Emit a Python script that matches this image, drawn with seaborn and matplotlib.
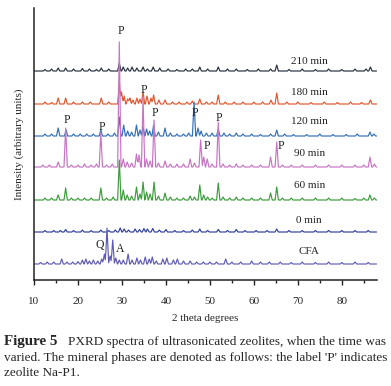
import numpy as np
import pandas as pd
import matplotlib.pyplot as plt
import seaborn as sns
from matplotlib.ticker import MultipleLocator

# 시료 이름 / 색
samples = ['210 min', '180 min', '120 min', '90 min', '60 min', '0 min', 'CFA']
colors = ['#26303e', '#e2552d', '#3370b8', '#c873c4', '#3c9c3c', '#2f3f9c', '#5f5bb5']
offsets = [209, 176, 144, 113, 80, 48, 16]     # 세로로 쌓기 위한 기준선
label_y = [218.5, 187.5, 158.5, 126, 94, 59.5, 29]

# 피크 (2theta, 세기) - 그림에서 읽은 값
peaks_210 = [(12.5, 1.5), (14, 2), (15.5, 3), (17.2, 3), (19, 2), (21, 2.5), (22.6, 2), (24.2, 1.5),
             (25.3, 3), (27, 2), (29.4, 8), (30.3, 4), (31.3, 3), (32.3, 4), (33.4, 3), (34.8, 4),
             (35.8, 2), (37.1, 4), (38.6, 3), (40.5, 2), (42.5, 1.5), (44.5, 2), (46, 2), (47.7, 4),
             (49.5, 2), (51.9, 4), (54, 2), (56, 2), (58.5, 1.5), (61, 2), (63.8, 2), (65.2, 6),
             (68, 1.5), (71, 2), (74, 1.5), (77, 2), (80, 1.5), (83, 2), (85.5, 2), (86.5, 4)]
peaks_180 = [(12.5, 2), (14, 1.5), (15.5, 6), (17.2, 6), (19, 2), (21, 2), (22.8, 2), (25.3, 6),
             (27, 2), (29.4, 21), (29.9, 12), (30.5, 8), (31.3, 5), (31.8, 6), (32.5, 4), (33.4, 6),
             (34.1, 5), (34.8, 12), (35.7, 8), (36.6, 6), (37.2, 9), (38.4, 4), (39.8, 4), (41.5, 2),
             (43, 2), (44.8, 2), (46, 3), (47.7, 5), (49.2, 2), (50.5, 2), (51.9, 9), (53.5, 2),
             (55.5, 2), (57.5, 2), (60, 2), (62, 2), (63.9, 4), (65.2, 11), (67.5, 2), (70, 2),
             (73, 1.5), (76, 2), (79, 1.5), (82, 2), (84.5, 1.5), (86.5, 4)]
peaks_120 = [(12.5, 2), (14, 2), (15.5, 8), (17.3, 6), (19, 2), (20.5, 2), (22, 2), (23.5, 2),
             (25.2, 6), (26.8, 2), (28.3, 3), (29.4, 19), (30.4, 11), (31.3, 5), (32.2, 4), (33.3, 11),
             (34.1, 6), (34.8, 9), (35.6, 7), (36.3, 5), (37.2, 11), (38.3, 4), (39.8, 8), (41, 3),
             (42.5, 2), (44, 2), (45.2, 3), (46.4, 34), (47.3, 8), (48, 5), (49.2, 3), (50.5, 3),
             (51.9, 7), (53.2, 3), (54.5, 2), (56, 3), (57.5, 2), (59.5, 2), (61.5, 1.5), (63.8, 2),
             (65.2, 6), (67, 2), (69, 1.5), (72, 1.5), (75, 2), (78, 1.5), (81, 1.5), (83.5, 2),
             (86.4, 4), (87.3, 2)]
peaks_90 = [(12, 2), (13.5, 2), (15.5, 5), (17.2, 39), (18.5, 2), (20, 2), (21.5, 3), (23, 2),
            (24.2, 3), (25.2, 34), (26.5, 2), (27.8, 3), (29.4, 125), (30.3, 8), (31.2, 5), (32.2, 4),
            (33.3, 13), (33.9, 12), (34.8, 70), (35.6, 8), (36.4, 6), (37.3, 47), (38.3, 4), (39.8, 6),
            (41, 3), (42.5, 3), (44, 3), (45.5, 8), (46.5, 4), (47.9, 27), (48.6, 10), (49.4, 8),
            (50.5, 3), (51.9, 45), (53, 3), (54.5, 2), (56, 3), (57.5, 2), (59.5, 2), (61.5, 2),
            (63.8, 10), (65.2, 25), (66.5, 2), (68.5, 2), (71, 2), (74, 2), (77, 2), (80, 2),
            (83, 2), (85, 2), (86.4, 10), (87.4, 3)]
peaks_60 = [(12.5, 2), (14, 2), (15.5, 5), (17.2, 12), (18.5, 2), (20, 2), (21.5, 2), (23, 2),
            (25.2, 12), (26.5, 2), (28, 3), (29.4, 40), (30.3, 10), (31.2, 5), (32.2, 4), (33.3, 13),
            (34.1, 6), (34.8, 18), (35.6, 8), (36.4, 6), (37.3, 18), (38.3, 4), (39.8, 7), (41, 3),
            (42.5, 2), (44, 2), (45.5, 4), (46.5, 3), (47.7, 15), (48.6, 5), (49.5, 3), (50.5, 2),
            (51.9, 17), (53, 3), (54.5, 2), (56, 3), (57.5, 2), (59.5, 2), (61.5, 2), (63.8, 7),
            (65.2, 13), (66.5, 2), (68.5, 2), (71, 2), (74, 2), (77, 2), (80, 2), (83, 1.5),
            (85, 2), (86.4, 5), (87.4, 2)]
peaks_0 = [(12.5, 1.5), (14.5, 1.5), (16, 1.5), (17.2, 2.5), (19, 1.5), (21, 2), (23, 1.5), (25.2, 2),
           (27, 1.5), (28.5, 2), (29.6, 4), (30.5, 3), (31.5, 2), (33, 3), (34, 2.5), (35, 3.5),
           (35.8, 3), (37, 3.5), (38.5, 2), (40, 2.5), (42, 1.5), (44, 1.5), (46, 2), (47.7, 3),
           (49.5, 1.5), (51.9, 2.5), (54, 1.5), (56, 2.5), (58, 1.5), (60.5, 1.5), (63, 1.5), (65.2, 3),
           (68, 1.5), (71, 1.5), (74, 1.5), (77, 1.5), (80, 1.5), (83, 1.5), (86, 1.5)]
peaks_cfa = [(11.5, 1.5), (13, 2), (14.5, 2), (16.3, 5), (17.5, 2), (18.8, 2), (20, 2.5), (21, 4),
             (21.8, 5), (22.6, 3), (23.5, 4), (24.5, 3), (25.4, 5), (26, 10), (26.6, 36), (27.3, 8),
             (27.9, 24), (28.6, 6), (29.4, 4), (30.3, 4), (31.4, 10), (32.3, 4), (33.4, 6), (34.2, 4),
             (35.3, 7), (36.2, 5), (36.9, 7), (37.8, 3), (39.3, 5), (40.2, 6), (41.7, 4), (42.6, 5),
             (44, 3), (45.5, 3), (47, 2), (48.5, 2), (50, 2), (51.5, 2), (53.6, 5), (55, 2),
             (57, 2), (59.5, 3), (61.5, 2), (63.5, 2), (66, 2), (68.5, 1.5), (71, 2), (74, 1.5),
             (77, 2), (80, 1.5), (83, 2), (86, 1.5)]
all_peaks = [peaks_210, peaks_180, peaks_120, peaks_90, peaks_60, peaks_0, peaks_cfa]

# 피크 표시 문자 (글자, 2theta, 높이)
marks = [('P', 29.8, 249), ('P', 35.1, 190), ('P', 37.5, 167), ('P', 17.4, 160), ('P', 25.4, 153),
         ('P', 46.6, 167), ('P', 52.0, 162), ('P', 49.3, 134), ('P', 66.1, 134),
         ('Q', 25.0, 35), ('A', 29.7, 31)]


def trace(peaks, w=0.38):
    pos = np.array([p for p, h in peaks])
    xs = np.unique(np.concatenate([[10, 87.9], pos - w, pos, pos + w]))
    ys = np.zeros_like(xs)
    for p, h in peaks:
        ys += np.interp(xs, [p - w, p, p + w], [0, h, 0])
    return xs, ys


rows = []
for name, pk, off in zip(samples, all_peaks, offsets):
    xs, ys = trace(pk)
    rows.append(pd.DataFrame({'two_theta': xs, 'y': ys + off, 'sample': name}))
df = pd.concat(rows, ignore_index=True)

sns.set_style('ticks')
plt.rcParams['font.family'] = ['Liberation Serif', 'DejaVu Serif']

fig = plt.figure(figsize=(3.91, 3.86), dpi=100)
ax = fig.add_axes([34 / 391, 106 / 386, 343 / 391, 272 / 386])

sns.lineplot(data=df, x='two_theta', y='y', hue='sample', palette=dict(zip(samples, colors)),
             estimator=None, sort=False, legend=False, lw=0.85, ax=ax)

for name, yy in zip(samples, label_y):
    ax.text(72.6, yy, name, ha='center', va='center', fontsize=8, color='#222222')
for s, xx, yy in marks:
    ax.text(xx, yy, s, ha='center', va='center', fontsize=8.5, color='#222222')

ax.set_xlim(10, 88)
ax.set_ylim(0, 272)
ax.set_yticks([])
ax.set_xticks(range(10, 90, 10))
ax.xaxis.set_minor_locator(MultipleLocator(5))
ax.tick_params(axis='x', which='major', length=3.6, width=1, labelsize=8, pad=8.5, color='#222222')
ax.tick_params(axis='x', which='minor', length=2, width=1, color='#222222')
sns.despine(ax=ax)
for sp in ['left', 'bottom']:
    ax.spines[sp].set_linewidth(1.1)
    ax.spines[sp].set_color('#222222')

ax.set_xlabel('2 theta degrees', fontsize=8)
ax.xaxis.set_label_coords(0.5, -0.125)
ax.set_ylabel('Intensity (arbitrary units)', fontsize=8)
ax.yaxis.label.set_va('center')
ax.yaxis.set_label_coords(-0.044, 0.5)

# 그림 설명
fig.text(4 / 391, 1 - 345 / 386, 'Figure 5', fontsize=10.8, fontweight='bold', va='baseline')
fig.text(68 / 391, 1 - 345 / 386, 'PXRD spectra of ultrasonicated zeolites, when the time was',
         fontsize=9.5, va='baseline')
fig.text(4 / 391, 1 - 361 / 386,
         "varied. The mineral phases are denoted as follows: the label 'P' indicates",
         fontsize=9.5, va='baseline')
fig.text(4 / 391, 1 - 376 / 386, 'zeolite Na-P1.', fontsize=9.5, va='baseline')

fig.savefig('out.png', dpi=100)
